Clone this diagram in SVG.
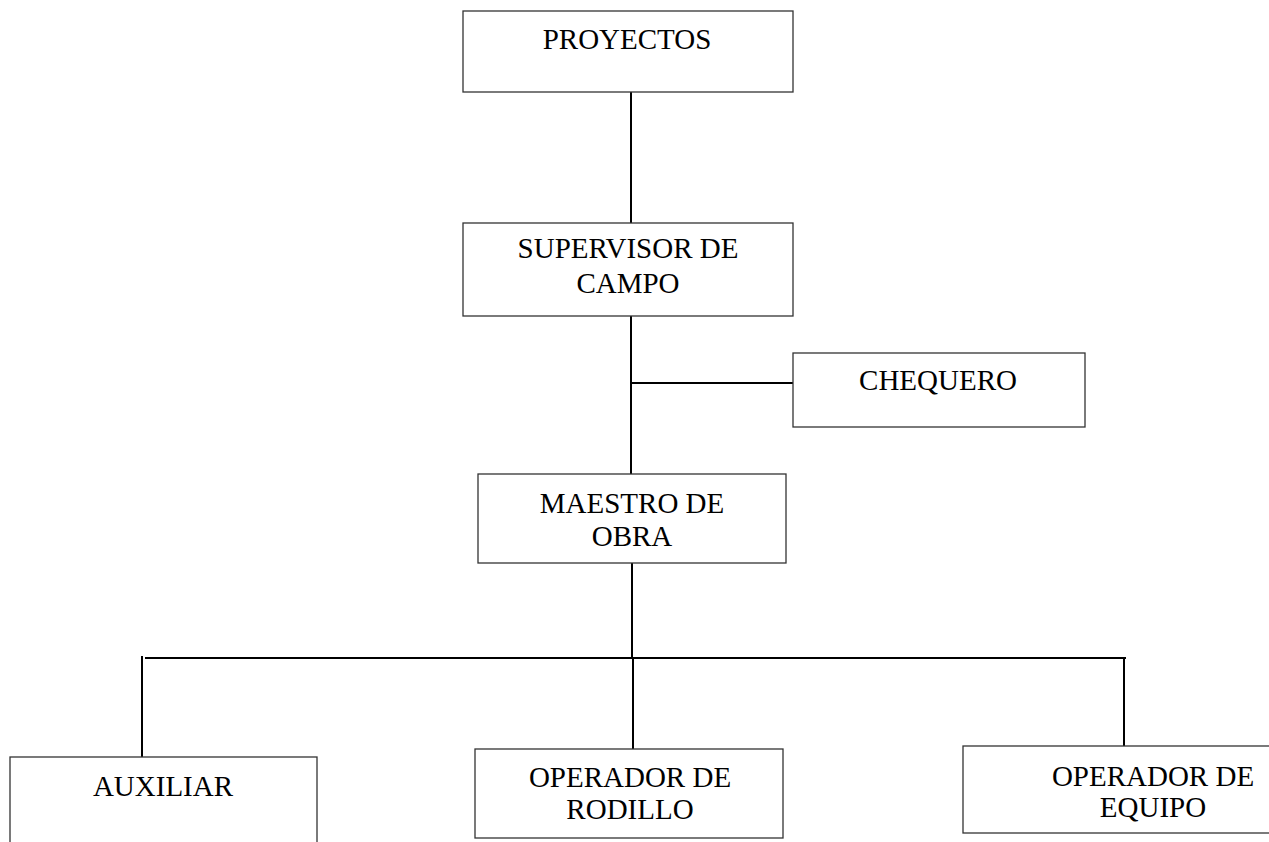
<svg xmlns="http://www.w3.org/2000/svg" width="1269" height="842" viewBox="0 0 1269 842">
<style>
.box{fill:#fff;stroke:#333;stroke-width:1.3}
.ln{stroke:#000;stroke-width:2;fill:none}
text{font-family:"Liberation Serif","Times New Roman",serif;font-size:29px;fill:#000;text-anchor:middle}
</style>
<rect width="1269" height="842" fill="#fff"/>
<g id="connectors">
<line class="ln" x1="631" y1="92" x2="631" y2="223"/>
<line class="ln" x1="631" y1="316" x2="631" y2="474"/>
<line class="ln" x1="631" y1="383" x2="793" y2="383"/>
<line class="ln" x1="632" y1="563" x2="632" y2="658"/>
<line class="ln" x1="145" y1="658" x2="1126" y2="658"/>
<line class="ln" x1="142" y1="656" x2="142" y2="757"/>
<line class="ln" x1="633" y1="658" x2="633" y2="749"/>
<line class="ln" x1="1124" y1="658" x2="1124" y2="746"/>
</g>
<g id="proyectos">
<rect class="box" x="463" y="11" width="330" height="81"/>
<text x="627" y="49">PROYECTOS</text>
</g>
<g id="supervisor">
<rect class="box" x="463" y="223" width="330" height="93"/>
<text x="628" y="258">SUPERVISOR DE</text>
<text x="628" y="293">CAMPO</text>
</g>
<g id="chequero">
<rect class="box" x="793" y="353" width="292" height="74"/>
<text x="938" y="390">CHEQUERO</text>
</g>
<g id="maestro">
<rect class="box" x="478" y="474" width="308" height="89"/>
<text x="632" y="513">MAESTRO DE</text>
<text x="632" y="546">OBRA</text>
</g>
<g id="auxiliar">
<rect class="box" x="10" y="757" width="307" height="100"/>
<text x="163" y="796">AUXILIAR</text>
</g>
<g id="operador-rodillo">
<rect class="box" x="475" y="749" width="308" height="89"/>
<text x="630" y="787">OPERADOR DE</text>
<text x="630" y="819">RODILLO</text>
</g>
<g id="operador-equipo">
<rect class="box" x="963" y="746" width="310" height="87"/>
<text x="1153" y="786">OPERADOR DE</text>
<text x="1153" y="817">EQUIPO</text>
</g>
</svg>
